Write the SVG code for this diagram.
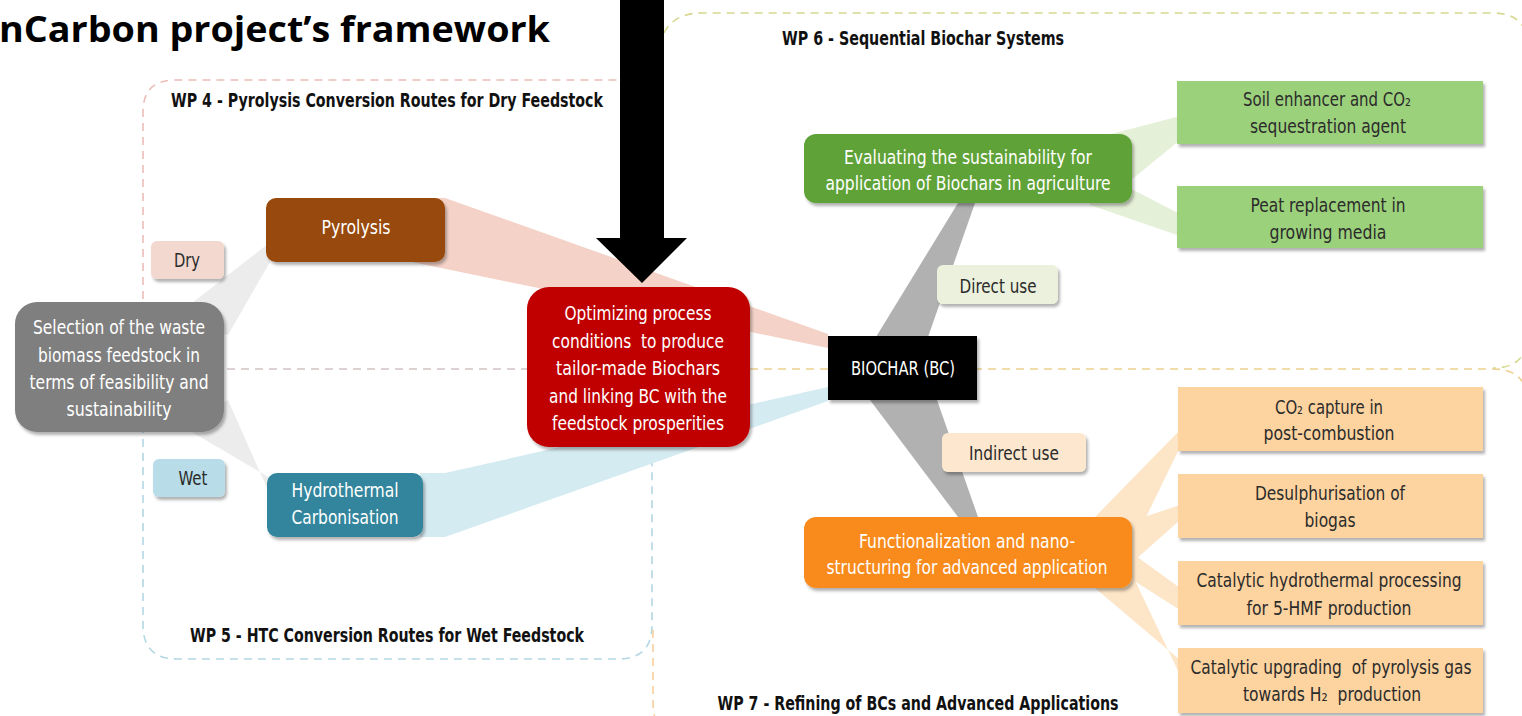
<svg xmlns="http://www.w3.org/2000/svg" width="1522" height="716" viewBox="0 0 1522 716">
<defs>
<filter id="sh" x="-10%" y="-10%" width="125%" height="135%">
<feDropShadow dx="2" dy="3" stdDeviation="1.8" flood-color="#000" flood-opacity="0.3"/>
</filter>
<style>
.t{font-family:"Liberation Sans Narrow","DejaVu Sans Condensed","Roboto","Liberation Sans",sans-serif;font-size:20px;text-anchor:middle}
.w{fill:#ffffff}
.d{fill:#2b2b2b}
.wp{font-family:"Liberation Sans Narrow","DejaVu Sans Condensed","Roboto","Liberation Sans",sans-serif;font-size:19px;font-weight:bold;fill:#111}
.dash{fill:none;stroke-width:1.6;stroke-dasharray:8 6}
.lg{fill:#9cd17c}
.lo{fill:#fdd39f}
</style>
</defs>
<rect width="1522" height="716" fill="#ffffff"/>

<g id="work-packages">
<path class="dash" stroke="#ecbdb8" d="M143,369 V112 Q143,80 175,80 H622 Q642,80 650,100"/>
<path class="dash" stroke="#d2c3c3" d="M143,369 H530"/>
<path class="dash" stroke="#b3d8e4" d="M143,369 V625 Q143,659 177,659 H618 Q652,659 652,625 V447"/>
<path class="dash" stroke="#d6d88f" d="M664,33 Q674,13 702,13 H1493 Q1528,13 1528,48 V333 Q1528,368 1493,368"/>
<path class="dash" stroke="#ecd090" d="M750,369 H1493 Q1528,369 1528,404 V760"/>
<path class="dash" stroke="#f5cf9c" d="M653,630 V702 Q653,740 690,740"/>
<text class="wp" x="387" y="107" text-anchor="middle" textLength="432" lengthAdjust="spacingAndGlyphs">WP 4 - Pyrolysis Conversion Routes for Dry Feedstock</text>
<text class="wp" x="923" y="45" text-anchor="middle" textLength="282" lengthAdjust="spacingAndGlyphs">WP 6 - Sequential Biochar Systems</text>
<text class="wp" x="387" y="642" text-anchor="middle" textLength="394" lengthAdjust="spacingAndGlyphs">WP 5 - HTC Conversion Routes for Wet Feedstock</text>
<text class="wp" x="918" y="710" text-anchor="middle" textLength="401" lengthAdjust="spacingAndGlyphs">WP 7 - Refining of BCs and Advanced Applications</text>
</g>

<g id="connectors">
<polygon fill="#ececec" points="170,320 228,335 270,262 268,244"/>
<polygon fill="#ececec" points="180,425 228,400 270,495 270,478"/>
<polygon fill="#f4d2c7" points="420,198 445,198 828,334 828,348 412,262"/>
<polygon fill="#d5ebf2" points="420,473 445,473 828,387 828,401 445,537 420,537"/>
<polygon fill="#b1b1b1" points="958,203 975,203 928,337 876,337"/>
<polygon fill="#b1b1b1" points="870,400 937,400 978,517 958,517"/>
<polygon fill="#e5f0d8" points="1050,150 1125,185 1180,140 1180,116"/>
<polygon fill="#e5f0d8" points="1075,160 1090,205 1180,236 1180,214"/>
<polygon fill="#fde5c7" points="1095,517 1135,540 1180,447 1180,430"/>
<polygon fill="#fde5c7" points="1120,525 1135,560 1180,520 1180,505"/>
<polygon fill="#fde5c7" points="1125,548 1125,575 1180,610 1180,588"/>
<polygon fill="#fde5c7" points="1095,588 1130,570 1180,675 1180,660"/>
</g>

<g id="title">
<text x="-1" y="42" font-family="'Open Sans',Lato,'Liberation Sans',sans-serif" font-weight="bold" font-size="35" fill="#000" textLength="551" lengthAdjust="spacingAndGlyphs">nCarbon project’s framework</text>
</g>

<g id="selection">
<rect x="15" y="302" width="209" height="130" rx="22" fill="#7f7f7f" filter="url(#sh)"/>
<text class="t w" x="119" y="334" textLength="172" lengthAdjust="spacingAndGlyphs">Selection of the waste</text>
<text class="t w" x="119" y="362" textLength="162" lengthAdjust="spacingAndGlyphs">biomass feedstock in</text>
<text class="t w" x="119" y="389" textLength="179" lengthAdjust="spacingAndGlyphs">terms of feasibility and</text>
<text class="t w" x="119" y="416" textLength="105" lengthAdjust="spacingAndGlyphs">sustainability</text>
</g>

<g id="dry">
<rect x="151" y="241" width="73" height="38" rx="6" fill="#f2d8cf" filter="url(#sh)"/>
<text class="t d" x="187" y="267" textLength="26" lengthAdjust="spacingAndGlyphs">Dry</text>
</g>

<g id="wet">
<rect x="153" y="459" width="72" height="38" rx="6" fill="#b8dde8" filter="url(#sh)"/>
<text class="t d" x="193" y="485" textLength="29" lengthAdjust="spacingAndGlyphs">Wet</text>
</g>

<g id="pyrolysis">
<rect x="266" y="198" width="179" height="64" rx="10" fill="#984807" filter="url(#sh)"/>
<text class="t w" x="356" y="234" textLength="69" lengthAdjust="spacingAndGlyphs">Pyrolysis</text>
</g>

<g id="htc">
<rect x="267" y="473" width="156" height="64" rx="10" fill="#31859c" filter="url(#sh)"/>
<text class="t w" x="345" y="497" textLength="107" lengthAdjust="spacingAndGlyphs">Hydrothermal</text>
<text class="t w" x="345" y="524" textLength="107" lengthAdjust="spacingAndGlyphs">Carbonisation</text>
</g>

<g id="optimizing">
<rect x="527" y="287" width="223" height="160" rx="22" fill="#c00000" filter="url(#sh)"/>
<text class="t w" x="638" y="320" textLength="147" lengthAdjust="spacingAndGlyphs">Optimizing process</text>
<text class="t w" x="638" y="348" textLength="172" lengthAdjust="spacingAndGlyphs" xml:space="preserve">conditions  to produce</text>
<text class="t w" x="638" y="375" textLength="164" lengthAdjust="spacingAndGlyphs">tailor-made Biochars</text>
<text class="t w" x="638" y="403" textLength="178" lengthAdjust="spacingAndGlyphs">and linking BC with the</text>
<text class="t w" x="638" y="430" textLength="172" lengthAdjust="spacingAndGlyphs">feedstock prosperities</text>
</g>

<g id="arrow">
<polygon fill="#000" points="620,0 664,0 664,238 687,238 642,283 596,238 620,238"/>
</g>

<g id="biochar">
<rect x="828" y="336" width="149" height="64" fill="#000" filter="url(#sh)"/>
<text class="t w" x="903" y="375" textLength="104" lengthAdjust="spacingAndGlyphs">BIOCHAR (BC)</text>
</g>

<g id="evaluating">
<rect x="804" y="134" width="328" height="69" rx="12" fill="#5ea238" filter="url(#sh)"/>
<text class="t w" x="968" y="164" textLength="248" lengthAdjust="spacingAndGlyphs">Evaluating the sustainability for</text>
<text class="t w" x="968" y="190" textLength="285" lengthAdjust="spacingAndGlyphs">application of Biochars in agriculture</text>
</g>

<g id="direct-use">
<rect x="937" y="265" width="121" height="39" rx="6" fill="#ebf1dd" filter="url(#sh)"/>
<text class="t d" x="998" y="293" textLength="77" lengthAdjust="spacingAndGlyphs">Direct use</text>
</g>

<g id="indirect-use">
<rect x="942" y="433" width="144" height="39" rx="6" fill="#fde8cf" filter="url(#sh)"/>
<text class="t d" x="1014" y="460" textLength="90" lengthAdjust="spacingAndGlyphs">Indirect use</text>
</g>

<g id="functionalization">
<rect x="804" y="517" width="328" height="71" rx="12" fill="#f88b1e" filter="url(#sh)"/>
<text class="t w" x="967" y="548" textLength="216" lengthAdjust="spacingAndGlyphs">Functionalization and nano-</text>
<text class="t w" x="967" y="574" textLength="281" lengthAdjust="spacingAndGlyphs">structuring for advanced application</text>
</g>

<g id="soil-enhancer">
<rect class="lg" x="1177" y="81" width="306" height="63" filter="url(#sh)"/>
<text class="t d" x="1327" y="106" textLength="168" lengthAdjust="spacingAndGlyphs">Soil enhancer and CO₂</text>
<text class="t d" x="1328" y="133" textLength="156" lengthAdjust="spacingAndGlyphs">sequestration agent</text>
</g>

<g id="peat-replacement">
<rect class="lg" x="1177" y="186" width="306" height="62" filter="url(#sh)"/>
<text class="t d" x="1328" y="212" textLength="155" lengthAdjust="spacingAndGlyphs">Peat replacement in</text>
<text class="t d" x="1328" y="239" textLength="117" lengthAdjust="spacingAndGlyphs">growing media</text>
</g>

<g id="co2-capture">
<rect class="lo" x="1178" y="387" width="305" height="64" filter="url(#sh)"/>
<text class="t d" x="1329" y="414" textLength="108" lengthAdjust="spacingAndGlyphs">CO₂ capture in</text>
<text class="t d" x="1329" y="440" textLength="131" lengthAdjust="spacingAndGlyphs">post-combustion</text>
</g>

<g id="desulphurisation">
<rect class="lo" x="1178" y="474" width="305" height="64" filter="url(#sh)"/>
<text class="t d" x="1330" y="500" textLength="150" lengthAdjust="spacingAndGlyphs">Desulphurisation of</text>
<text class="t d" x="1330" y="527" textLength="51" lengthAdjust="spacingAndGlyphs">biogas</text>
</g>

<g id="hmf">
<rect class="lo" x="1178" y="561" width="305" height="64" filter="url(#sh)"/>
<text class="t d" x="1329" y="587" textLength="265" lengthAdjust="spacingAndGlyphs">Catalytic hydrothermal processing</text>
<text class="t d" x="1329" y="615" textLength="165" lengthAdjust="spacingAndGlyphs">for 5-HMF production</text>
</g>

<g id="h2">
<rect class="lo" x="1178" y="648" width="305" height="65" filter="url(#sh)"/>
<text class="t d" x="1331" y="674" textLength="281" lengthAdjust="spacingAndGlyphs" xml:space="preserve">Catalytic upgrading  of pyrolysis gas</text>
<text class="t d" x="1332" y="701" textLength="178" lengthAdjust="spacingAndGlyphs" xml:space="preserve">towards H₂  production</text>
</g>
</svg>
